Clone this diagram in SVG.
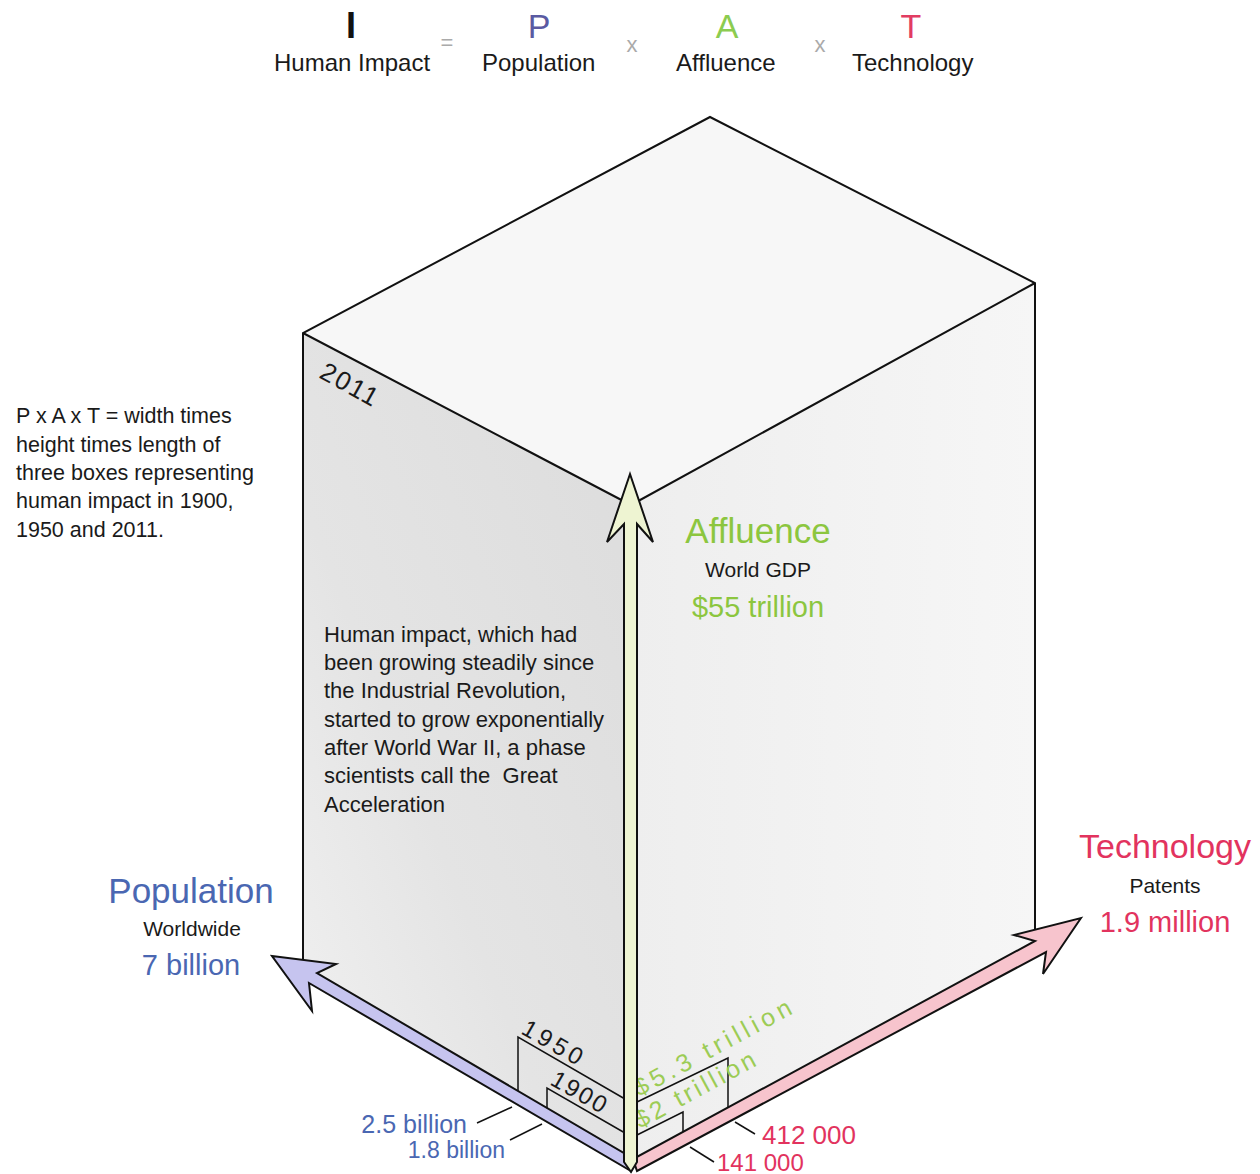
<svg xmlns="http://www.w3.org/2000/svg" width="1260" height="1174" viewBox="0 0 1260 1174">
<style>
text{font-family:"Liberation Sans",Arial,sans-serif;}
.edge{fill:none;stroke:#111;stroke-width:2;stroke-linejoin:miter}
.thin{fill:none;stroke:#111;stroke-width:1.5}
.arrow{stroke:#111;stroke-width:2;stroke-linejoin:miter}
.body{font-size:22px;fill:#1a1a1a}
.small{font-size:21px;fill:#1a1a1a;text-anchor:middle}
.op{font-size:22px;fill:#aaaaaa;text-anchor:middle}
.big{font-size:34px;text-anchor:middle}
.green{fill:#8cc63f}
.red{fill:#e2335e}
.blue{fill:#4a67b2}
</style>
<defs>
<linearGradient id="leftFace" x1="1" y1="0" x2="0" y2="1">
<stop offset="0" stop-color="#dcdcdc"/>
<stop offset="0.6" stop-color="#e4e4e4"/>
<stop offset="1" stop-color="#f2f2f2"/>
</linearGradient>
<linearGradient id="rightFace" x1="0" y1="0" x2="1" y2="0">
<stop offset="0" stop-color="#eeeeee"/>
<stop offset="1" stop-color="#f6f6f6"/>
</linearGradient>
</defs>
<rect width="1260" height="1174" fill="#ffffff"/>

<g id="equation">
<text x="351" y="38" style="font-size:36px;text-anchor:middle;fill:#111;font-weight:bold">I</text>
<text x="274" y="71" style="font-size:24px;fill:#1a1a1a">Human Impact</text>
<text x="447" y="50" class="op">=</text>
<text x="539" y="38" style="font-size:34px;text-anchor:middle;fill:#5a5aa2">P</text>
<text x="482" y="71" style="font-size:24px;fill:#1a1a1a">Population</text>
<text x="632" y="52" class="op">x</text>
<text x="727" y="38" style="font-size:34px;text-anchor:middle;fill:#8ccc50">A</text>
<text x="676" y="71" style="font-size:24px;fill:#1a1a1a">Affluence</text>
<text x="820" y="52" class="op">x</text>
<text x="911" y="38" style="font-size:34px;text-anchor:middle;fill:#e23c62">T</text>
<text x="852" y="71" style="font-size:24px;fill:#1a1a1a">Technology</text>
</g>

<g id="note-left">
<text class="body" style="font-size:21.5px"><tspan x="16" y="423">P x A x T = width times</tspan><tspan x="16" y="452">height times length of</tspan><tspan x="16" y="480">three boxes representing</tspan><tspan x="16" y="508">human impact in 1900,</tspan><tspan x="16" y="537">1950 and 2011.</tspan></text>
</g>

<g id="box-2011">
<polygon points="303,333 710,117 1035,283 631,505" fill="#f7f7f7"/>
<polygon points="303,333 631,505 631,1166 303,970" fill="url(#leftFace)"/>
<polygon points="631,505 1035,283 1035,940 631,1166" fill="url(#rightFace)"/>
<polyline class="edge" points="303,966 303,333 710,117 1035,283 1035,942"/>
<polyline class="edge" points="303,333 631,505 1035,283"/>
<text transform="translate(318,377) rotate(29)" style="font-size:26px;fill:#1a1a1a;letter-spacing:2px">2011</text>
</g>

<g id="note-center">
<text class="body"><tspan x="324" y="642">Human impact, which had</tspan><tspan x="324" y="670">been growing steadily since</tspan><tspan x="324" y="698">the Industrial Revolution,</tspan><tspan x="324" y="727">started to grow exponentially</tspan><tspan x="324" y="755">after World War II, a phase</tspan><tspan x="324" y="783">scientists call the&#160; Great</tspan><tspan x="324" y="812">Acceleration</tspan></text>
</g>

<g id="box-1950">
<polyline class="thin" points="518,1093 518,1037 625,1099"/>
<polyline class="thin" points="637,1102 728,1058 728,1110"/>
<text transform="translate(520,1033) rotate(30)" style="font-size:24px;fill:#1a1a1a" textLength="66" lengthAdjust="spacing">1950</text>
<text transform="translate(639,1097) rotate(-28.5)" style="font-size:25px;fill:#9ccc55" textLength="176" lengthAdjust="spacing">$5.3 trillion</text>
</g>

<g id="box-1900">
<polyline class="thin" points="547,1109 547,1088 625,1133"/>
<polyline class="thin" points="637,1135 683,1112 683,1134"/>
<text transform="translate(549,1084) rotate(30)" style="font-size:24px;fill:#1a1a1a" textLength="60" lengthAdjust="spacing">1900</text>
<text transform="translate(640,1129) rotate(-28.5)" style="font-size:25px;fill:#9ccc55" textLength="134" lengthAdjust="spacing">$2 trillion</text>
</g>

<g id="connectors">
<polygon class="arrow" fill="#c6c4ef" points="272,956 336,964 317,973 634,1159 631,1171 309,983 312,1011"/>
<polygon class="arrow" fill="#f7c4cd" points="1081,918 1043,974 1046,952 637,1171 633,1159 1035,941 1014,935"/>
<polygon class="arrow" fill="#eef4d2" points="630,474 653,542 637,524 637,1162 631,1172 624,1162 624,524 607,542"/>
<line class="thin" x1="477" y1="1123" x2="512" y2="1107"/>
<line class="thin" x1="510" y1="1140" x2="542" y2="1124"/>
<line class="thin" x1="735" y1="1122" x2="755" y2="1134"/>
<line class="thin" x1="690" y1="1147" x2="714" y2="1162"/>
</g>

<g id="label-affluence">
<text x="758" y="543" class="big green" style="font-size:35px">Affluence</text>
<text x="758" y="577" class="small">World GDP</text>
<text x="758" y="617" class="big green" style="font-size:29px">$55 trillion</text>
</g>

<g id="label-technology">
<text x="1165" y="858" class="big red">Technology</text>
<text x="1165" y="893" class="small">Patents</text>
<text x="1165" y="932" class="big red" style="font-size:29px">1.9 million</text>
<text x="762" y="1144" class="red" style="font-size:26px">412 000</text>
<text x="717" y="1171" class="red" style="font-size:24px">141 000</text>
</g>

<g id="label-population">
<text x="191" y="903" class="big blue" style="font-size:35px">Population</text>
<text x="192" y="936" class="small">Worldwide</text>
<text x="191" y="975" class="big blue" style="font-size:29px">7 billion</text>
<text x="467" y="1133" class="blue" style="font-size:25px;text-anchor:end">2.5 billion</text>
<text x="505" y="1158" class="blue" style="font-size:23px;text-anchor:end">1.8 billion</text>
</g>
</svg>
